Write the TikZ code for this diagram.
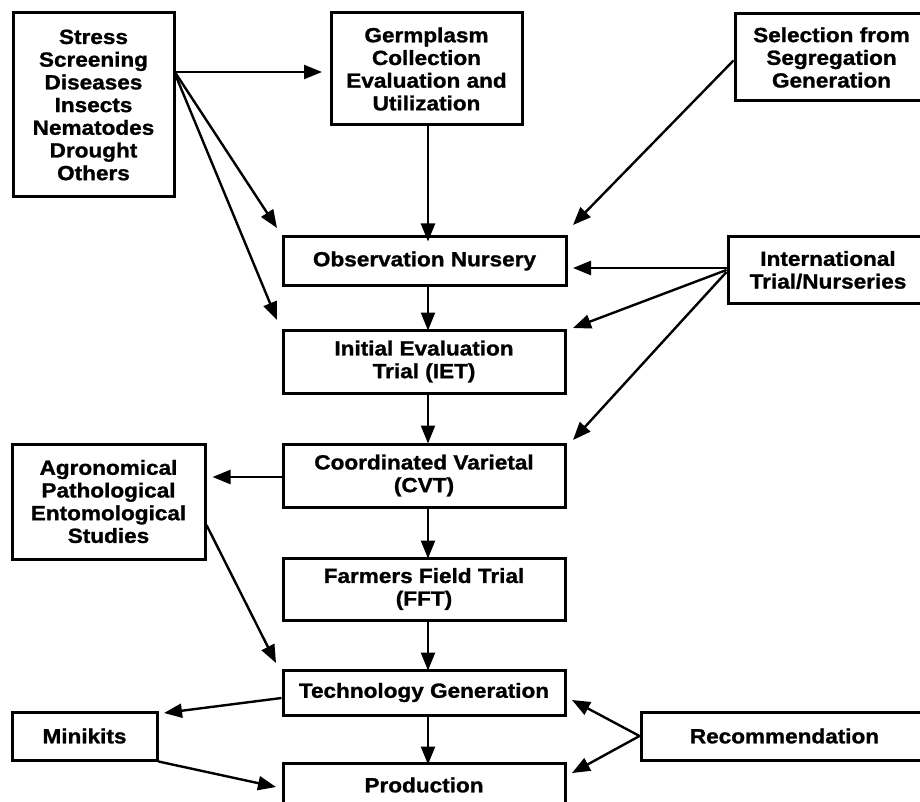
\documentclass[tikz,border=0pt]{standalone}
\usepackage{fontspec}
\setmainfont{Liberation Sans}[FakeStretch=1.1,BoldFeatures={FakeBold=1.2}]
\usetikzlibrary{arrows.meta}
\begin{document}
\begin{tikzpicture}[x=1pt,y=-1pt,
  box/.style={draw, line width=3pt, inner sep=0pt, align=center,
    font=\fontsize{20.5}{22.7}\selectfont\bfseries},
  arr/.style={line width=2.4pt, -{Triangle[length=18pt,width=14pt]}}]
\useasboundingbox (0,0) rectangle (920,802);
\node[box, minimum width=161pt, minimum height=184pt] (stress) at (93.5,105) {Stress\\Screening\\Diseases\\Insects\\Nematodes\\Drought\\Others};
\node[box, minimum width=191pt, minimum height=112pt] (germ) at (426.5,69) {Germplasm\\Collection\\Evaluation and\\Utilization};
\node[box, minimum width=193pt, minimum height=87pt] (sel) at (831.5,57.5) {Selection from\\Segregation\\Generation};
\node[box, minimum width=283pt, minimum height=48pt] (obs) at (424.5,261) {Observation Nursery};
\node[box, minimum width=200pt, minimum height=66pt] (intl) at (828,270) {International\\Trial/Nurseries};
\node[box, minimum width=282pt, minimum height=63pt] (iet) at (424,361.5) {Initial Evaluation\\Trial (IET)};
\node[box, minimum width=282pt, minimum height=63pt] (cvt) at (424,475.5) {Coordinated Varietal\\(CVT)};
\node[box, minimum width=193pt, minimum height=115pt] (agro) at (108.5,501.5) {Agronomical\\Pathological\\Entomological\\Studies};
\node[box, minimum width=282pt, minimum height=62pt] (fft) at (424,589) {Farmers Field Trial\\(FFT)};
\node[box, minimum width=282pt, minimum height=45pt] (tech) at (424,692.5) {Technology Generation};
\node[box, minimum width=145pt, minimum height=48pt] (mini) at (84.5,736) {Minikits};
\node[box, minimum width=287pt, minimum height=48pt] (rec) at (784.5,736) {Recommendation};
\node[box, minimum width=282pt, minimum height=44pt] (prod) at (424,785) {Production};
% free arrow ends
\coordinate (col) at (428,0);
\coordinate (tA) at (322,72);
\coordinate (tB) at (277,228);
\coordinate (tC) at (277,320);
\coordinate (tD) at (573,225);
\coordinate (tE) at (573,268);
\coordinate (tF) at (573,328);
\coordinate (tG) at (573,440);
\coordinate (tH) at (276,663);
\coordinate (tI) at (164,713);
\coordinate (tJ) at (276,787);
\coordinate (tK) at (572,700);
\coordinate (tL) at (572,773);
\draw[arr] (stress.east |- tA) -- (tA);
\draw[arr] ([yshift=-1pt]stress.east |- tA) -- (tB);
\draw[arr] ([yshift=-3pt]stress.east |- tA) -- (tC);
\draw[arr] (germ.south -| col) -- ([yshift=-6pt]obs.north -| col);
\draw[arr] ([yshift=-3pt]sel.west) -- (tD);
\draw[arr] (intl.west |- tE) -- (tE);
\draw[arr] ([yshift=-2pt]intl.west |- tE) -- (tF);
\draw[arr] ([yshift=-4pt]intl.west |- tE) -- (tG);
\draw[arr] (obs.south -| col) -- ([yshift=-2pt]iet.north -| col);
\draw[arr] (iet.south -| col) -- ([yshift=-1pt]cvt.north -| col);
\draw[arr] ([yshift=-1.5pt]cvt.west) -- ([xshift=6pt,yshift=-1.5pt]cvt.west -| agro.east);
\draw[arr] (cvt.south -| col) -- ([yshift=-2pt]fft.north -| col);
\draw[arr] ([yshift=-23.5pt]agro.east) -- (tH);
\draw[arr] (fft.south -| col) -- ([yshift=-2pt]tech.north -| col);
\draw[arr] ([yshift=-5.5pt]tech.west) -- (tI);
\draw[arr] (mini.south east) -- (tJ);
\draw[arr] (tech.south -| col) -- ([yshift=-3pt]prod.north -| col);
\draw[arr] (rec.west) -- (tK);
\draw[arr] (rec.west) -- (tL);
\end{tikzpicture}
\end{document}
